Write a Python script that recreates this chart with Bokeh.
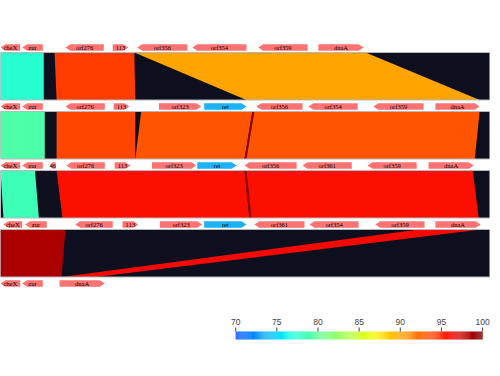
import numpy as np
from bokeh.plotting import figure
from bokeh.models import Range1d, ColumnDataSource, LinearColorMapper
from bokeh.core.properties import value
from bokeh.embed import file_html
from bokeh.resources import INLINE

# ---------------- data (positions, arbitrary units) ----------------
t1_names = ["cheX", "zur", "orf276", "113", "orf356", "orf354", "orf359", "dnaA"]
t1_start = [0, 22, 66, 114, 139, 195, 262, 323]
t1_end = [20, 43, 105, 130, 190, 250, 312, 369]
t1_strand = [-1, -1, -1, 1, -1, -1, -1, 1]

t2_names = ["cheX", "zur", "orf276", "113", "orf323", "ret", "orf356", "orf354", "orf359", "dnaA"]
t2_start = [0, 22, 66, 115, 161, 207, 260, 313, 379, 442]
t2_end = [20, 43, 106, 131, 204, 250, 307, 363, 430, 487]
t2_strand = [-1, -1, -1, 1, 1, 1, -1, -1, -1, 1]

t3_names = ["cheX", "zur", "46", "orf276", "113", "orf323", "ret", "orf356", "orf361", "orf359", "dnaA"]
t3_start = [0, 22, 50, 67, 116, 154, 200, 248, 307, 373, 435]
t3_end = [20, 43, 56, 106, 132, 199, 240, 301, 357, 423, 481]
t3_strand = [-1, -1, -1, -1, 1, 1, 1, -1, -1, -1, 1]

t4_names = ["cheX", "zur", "orf276", "113", "orf323", "ret", "orf361", "orf354", "orf359", "dnaA"]
t4_start = [3, 25, 76, 124, 162, 207, 258, 314, 381, 442]
t4_end = [22, 47, 114, 140, 205, 250, 309, 364, 431, 488]
t4_strand = [-1, -1, -1, 1, 1, 1, -1, -1, -1, 1]

t5_names = ["cheX", "zur", "dnaA"]
t5_start = [0, 22, 60]
t5_end = [20, 43, 106]
t5_strand = [-1, -1, 1]

# links between track k (upper) and track k+1 (lower)
link_track = [0, 0, 0, 1, 1, 1, 1, 1, 2, 2, 2, 2, 3, 3]
link_top_start = [0, 55, 136, 0, 57, 143, 256, 258, 0, 57, 248, 250, 0, 425]
link_top_end = [44, 136, 371, 45, 137, 256, 258, 487, 35, 248, 250, 480, 66, 488]
link_bot_start = [0, 57, 250, 0, 57, 137, 248, 250, 3, 63, 253, 255, 0, 62]
link_bot_end = [44, 137, 487, 45, 137, 248, 250, 482, 39, 253, 255, 486, 62, 97]
link_identity = [77.4, 94.2, 90.1, 79.2, 93.9, 93.25, 99.3, 93.25, 78.5, 96.0, 99.3, 96.0, 98.5, 96.2]

cbar_low, cbar_high = 70, 100
cbar_ticks = [70, 75, 80, 85, 90, 95, 100]

tracks = [
    (t1_names, t1_start, t1_end, t1_strand),
    (t2_names, t2_start, t2_end, t2_strand),
    (t3_names, t3_start, t3_end, t3_strand),
    (t4_names, t4_start, t4_end, t4_strand),
    (t5_names, t5_start, t5_end, t5_strand),
]

# ---------------- styling / layout ----------------
def jet(t):
    r = np.interp(t, [0, 0.35, 0.66, 0.89, 1], [0, 0, 1, 1, 0.5])
    g = np.interp(t, [0, 0.125, 0.375, 0.64, 0.91, 1], [0, 0, 1, 1, 0, 0])
    b = np.interp(t, [0, 0.11, 0.34, 0.65, 1], [0.5, 1, 1, 0, 0])
    return "#%02x%02x%02x" % (int(round(r * 255)), int(round(g * 255)), int(round(b * 255)))

palette = [jet(t) for t in np.linspace(0.2, 1.0, 256)]
mapper = LinearColorMapper(palette=palette, low=cbar_low, high=cbar_high)

TRACK_Y0 = 55
TRACK_DY = 59
BAND_OFF_TOP = 5
BAND_OFF_BOT = 52.5
GENE_H = 3.2
HEAD = 5
X_MAX = 497

p = figure(width=492, height=368, output_backend="svg", toolbar_location=None,
           x_range=Range1d(0, 492 * X_MAX / 489), y_range=Range1d(376, 8),
           min_border=0, background_fill_color="white", border_fill_color="white")
p.axis.visible = False
p.grid.visible = False
p.outline_line_color = None

track_y = [TRACK_Y0 + TRACK_DY * i for i in range(len(tracks))]

# dark bands between tracks
band_top = [track_y[i] + BAND_OFF_TOP for i in range(len(tracks) - 1)]
band_bot = [track_y[i] + BAND_OFF_BOT for i in range(len(tracks) - 1)]
p.quad(left=0, right=X_MAX, top=band_top, bottom=band_bot,
       fill_color="#0e0f1e", line_color=None)

# links
lxs, lys = [], []
for k, ts, te, bs, be in zip(link_track, link_top_start, link_top_end, link_bot_start, link_bot_end):
    yt, yb = band_top[k], band_bot[k]
    lxs.append([ts, te, be, bs])
    lys.append([yt, yt, yb, yb])
link_src = ColumnDataSource(dict(xs=lxs, ys=lys, identity=link_identity))
p.patches("xs", "ys", source=link_src,
          fill_color={"field": "identity", "transform": mapper}, line_color=None)

# band edge lines
p.segment(x0=0, x1=X_MAX, y0=band_top, y1=band_top, line_color="#b8b8b8", line_width=1)
p.segment(x0=0, x1=X_MAX, y0=band_bot, y1=band_bot, line_color="#b8b8b8", line_width=1)

# genes
gxs, gys, gcol, tx, ty, tt = [], [], [], [], [], []
for (names, starts, ends, strands), y in zip(tracks, track_y):
    for n, s, e, st in zip(names, starts, ends, strands):
        h = min(HEAD, (e - s) * 0.5)
        if st > 0:
            xs = [s, e - h, e, e - h, s]
        else:
            xs = [e, s + h, s, s + h, e]
        ys = [y - GENE_H, y - GENE_H, y, y + GENE_H, y + GENE_H]
        gxs.append(xs)
        gys.append(ys)
        gcol.append("#1cb2f5" if n == "ret" else "#ff7272")
        tx.append((s + e) / 2)
        ty.append(y)
        tt.append(n)
p.patches(gxs, gys, fill_color=gcol, line_color=None)
p.text(x=tx, y=ty, text=tt, text_font=value("Liberation Serif"), text_font_size="6.5px",
       text_align="center", text_baseline="middle", text_color="black")

# colour bar (legend)
CB_X0, CB_X1 = 239, 490
CB_Y0, CB_Y1 = 339, 347
vals = np.linspace(cbar_low, cbar_high, 257)
def cbx(v):
    return CB_X0 + (np.asarray(v) - cbar_low) / (cbar_high - cbar_low) * (CB_X1 - CB_X0)
mids = (vals[:-1] + vals[1:]) / 2
cb_src = ColumnDataSource(dict(left=cbx(vals[:-1]), right=cbx(vals[1:]) + 0.05, v=mids))
p.quad(left="left", right="right", top=CB_Y0, bottom=CB_Y1, source=cb_src,
       fill_color={"field": "v", "transform": mapper}, line_color=None)
tick_x = cbx(cbar_ticks)
p.segment(x0=tick_x, x1=tick_x, y0=CB_Y0 - 4, y1=CB_Y0, line_color="#444444", line_width=1)
p.text(x=tick_x, y=329, text=[str(t) for t in cbar_ticks], text_font=value("Liberation Sans"),
       text_font_size="8.5px", text_align="center", text_baseline="middle", text_color="#444444")

open("out.html", "w").write(file_html(p, INLINE))
